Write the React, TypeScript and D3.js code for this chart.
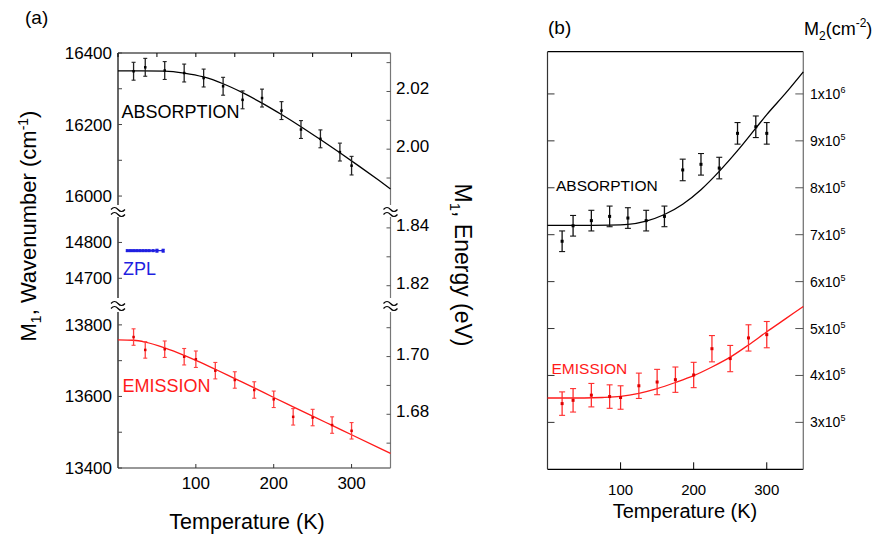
import React from "react";
import * as d3 from "d3";

// ---------- data (panel a: first moment) ----------
const absTempA = [20, 35, 60, 85, 110, 135, 160, 185, 210, 235, 260, 285, 300];
const absWaveA = [16349, 16360, 16351, 16344, 16330, 16307, 16269, 16274, 16239, 16186, 16160, 16123, 16085];
const absErrA = [25, 25, 25, 25, 25, 25, 25, 25, 25, 25, 25, 25, 26];
const absFitTempA = [0, 30, 60, 85, 110, 135, 160, 185, 210, 235, 260, 285, 310, 335, 350];
const absFitWaveA = [16350, 16350, 16349.5, 16344, 16333, 16314, 16289, 16260, 16228, 16194, 16158, 16121, 16083, 16044, 16020];

const emiTempA = [20, 35, 60, 85, 100, 125, 150, 175, 200, 225, 250, 275, 300];
const emiWaveA = [13766, 13730, 13732, 13711, 13704, 13672, 13646, 13618, 13592, 13543, 13541, 13520, 13504];
const emiErrA = [23, 23, 23, 23, 23, 23, 23, 23, 23, 23, 23, 23, 23];
const emiFitTempA = [0, 20, 35, 60, 85, 100, 125, 150, 175, 200, 225, 250, 275, 300, 350];
const emiFitWaveA = [13758, 13757, 13752, 13736, 13715, 13701, 13676, 13650, 13624, 13597, 13571, 13545, 13519, 13493, 13441];

const zplTemp = [12, 16, 20, 24, 28, 32, 36, 40, 45, 50, 58];
const zplWave = [14777, 14777, 14777, 14777, 14777, 14777, 14777, 14777, 14777, 14777, 14777];
const zplErr = [2, 2, 2, 2, 2, 2, 2, 2, 2, 4, 4];

// ---------- data (panel b: second moment) ----------
const absTempB = [20, 35, 60, 85, 110, 135, 160, 185, 210, 235, 260, 285, 300];
const absM2B = [6.86e5, 7.19e5, 7.3e5, 7.39e5, 7.355e5, 7.3e5, 7.39e5, 8.38e5, 8.5e5, 8.42e5, 9.16e5, 9.3e5, 9.16e5];
const absErrB = [2.2e4, 2.2e4, 2.2e4, 2.2e4, 2.2e4, 2.2e4, 2.2e4, 2.3e4, 2.3e4, 2.3e4, 2.3e4, 2.3e4, 2.3e4];
const absFitTempB = [0, 50, 85, 110, 135, 160, 185, 210, 235, 260, 285, 300, 325, 350];
const absFitM2B = [7.2e5, 7.2e5, 7.205e5, 7.22e5, 7.29e5, 7.43e5, 7.65e5, 7.96e5, 8.35e5, 8.79e5, 9.27e5, 9.56e5, 1.0e6, 1.047e6];

const emiTempB = [20, 35, 60, 85, 100, 125, 150, 175, 200, 225, 250, 275, 300];
const emiM2B = [3.4e5, 3.47e5, 3.58e5, 3.55e5, 3.53e5, 3.78e5, 3.86e5, 3.91e5, 4.01e5, 4.57e5, 4.36e5, 4.8e5, 4.87e5];
const emiErrB = [2.5e4, 2.5e4, 2.5e4, 2.5e4, 2.5e4, 2.7e4, 2.7e4, 2.7e4, 2.7e4, 2.8e4, 2.8e4, 2.8e4, 2.8e4];
const emiFitTempB = [0, 50, 75, 100, 125, 150, 175, 200, 225, 250, 275, 300, 325, 350];
const emiFitM2B = [3.52e5, 3.52e5, 3.53e5, 3.555e5, 3.62e5, 3.72e5, 3.85e5, 3.995e5, 4.18e5, 4.39e5, 4.65e5, 4.93e5, 5.2e5, 5.47e5];

// ---------- ticks ----------
const tempTicks = [100, 200, 300];
const tempTopTicksA = [0, 50, 100, 150, 200, 250, 300, 350];
const waveMajorTop = [16400, 16200, 16000];
const waveMinorTop = [16300, 16100];
const waveMajorMid = [14800, 14700];
const waveMajorBot = [13800, 13600, 13400];
const waveMinorBot = [13700, 13500];
const evMajorTop = [2.02, 2.0];
const evMinorTop = [2.03, 2.01, 1.99];
const evMajorMid = [1.84, 1.82];
const evMinorMid = [1.83];
const evMajorBot = [1.7, 1.68];
const evMinorBot = [1.71, 1.69, 1.67];
const m2Ticks = [3e5, 4e5, 5e5, 6e5, 7e5, 8e5, 9e5, 1e6];

const CM_PER_EV = 8065.54;
const FONT = "'Liberation Sans', Arial, Helvetica, sans-serif";
const RED = "#ff1a1a";
const BLUE = "#1f1fe0";

export default function App() {
  // panel a scales
  const xA = d3.scaleLinear().domain([0, 350]).range([118, 390.5]);
  const yTop = d3.scaleLinear().domain([15975, 16400]).range([205, 53]);
  const yMid = d3.scaleLinear().domain([14645, 14871]).range([298, 217]);
  const yBot = d3.scaleLinear().domain([13400, 13836]).range([468, 312]);
  // panel b scales
  const xB = d3.scaleLinear().domain([0, 350]).range([547.5, 803.3]);
  const yB = d3.scaleLinear().domain([2e5, 1.09e6]).range([469.3, 51.7]);

  const lineGen = (xs: any, ys: any, tArr: number[], vArr: number[]) =>
    d3
      .line<number>()
      .x((_, i) => xs(tArr[i]))
      .y((v) => ys(v))
      .curve(d3.curveMonotoneX)(vArr) || "";

  const errorBars = (
    key: string,
    xs: any,
    ys: any,
    tArr: number[],
    vArr: number[],
    eArr: number[],
    color: string,
    barColor: string,
    cap: number,
    dot: number
  ) =>
    tArr.map((t, i) => {
      const x = xs(t);
      const y0 = ys(vArr[i] - eArr[i]);
      const y1 = ys(vArr[i] + eArr[i]);
      return (
        <g key={key + i}>
          <line x1={x} x2={x} y1={y0} y2={y1} stroke={barColor} strokeWidth={1.3} />
          <line x1={x - cap} x2={x + cap} y1={y0} y2={y0} stroke={barColor} strokeWidth={1.1} />
          <line x1={x - cap} x2={x + cap} y1={y1} y2={y1} stroke={barColor} strokeWidth={1.1} />
          <rect x={x - dot / 2} y={ys(vArr[i]) - dot / 2} width={dot} height={dot} fill={color} />
        </g>
      );
    });

  const breakMark = (x: number, y: number, key: string) => (
    <g key={key} fill="none" stroke="#000" strokeWidth={1.2}>
      <path d={`M${x - 7},${y - 1.5} q3.5,-4 7,0 t7,0`} />
      <path d={`M${x - 7},${y + 3.5} q3.5,-4 7,0 t7,0`} />
    </g>
  );

  const leftX = xA.range()[0];
  const rightX = xA.range()[1];
  const sections = [
    { s: yTop, major: waveMajorTop, minor: waveMinorTop, evMajor: evMajorTop, evMinor: evMinorTop },
    { s: yMid, major: waveMajorMid, minor: [] as number[], evMajor: evMajorMid, evMinor: evMinorMid },
    { s: yBot, major: waveMajorBot, minor: waveMinorBot, evMajor: evMajorBot, evMinor: evMinorBot },
  ];

  const bLeft = xB.range()[0];
  const bRight = xB.range()[1];
  const bTop = yB.range()[1];
  const bBottom = yB.range()[0];

  return (
    <svg
      width={880}
      height={536}
      style={{ position: "absolute", left: 0, top: 0, background: "#fff" }}
      fontFamily={FONT}
    >
      <rect x={0} y={0} width={880} height={536} fill="#fff" />

      {/* ================= panel (a) ================= */}
      <text x={25} y={24} fontSize={19}>(a)</text>

      {/* top border with ticks */}
      <line x1={leftX} x2={rightX} y1={yTop.range()[1]} y2={yTop.range()[1]} stroke="#000" strokeWidth={1.2} />
      {tempTopTicksA.map((t) => (
        <line key={"tt" + t} x1={xA(t)} x2={xA(t)} y1={yTop.range()[1]} y2={yTop.range()[1] + 4} stroke="#000" />
      ))}
      {/* bottom axis */}
      <line x1={leftX} x2={rightX} y1={yBot.range()[0]} y2={yBot.range()[0]} stroke="#333" strokeWidth={1.2} />
      {tempTicks.map((t) => (
        <g key={"bt" + t}>
          <line x1={xA(t)} x2={xA(t)} y1={yBot.range()[0]} y2={yBot.range()[0] - 4} stroke="#333" />
          <text x={xA(t)} y={489} fontSize={17} textAnchor="middle">{t}</text>
        </g>
      ))}
      <text x={247} y={529} fontSize={21.5} textAnchor="middle">Temperature (K)</text>

      {/* left & right axis sections */}
      {sections.map((sec, k) => {
        const [y1, y0] = sec.s.range();
        return (
          <g key={"sec" + k}>
            <line x1={leftX} x2={leftX} y1={y0} y2={y1} stroke="#000" strokeWidth={1.2} />
            <line x1={rightX} x2={rightX} y1={y0} y2={y1} stroke="#777" strokeWidth={1.2} />
            {sec.major.map((v) => (
              <g key={"wm" + v}>
                <line x1={leftX} x2={leftX + 4} y1={sec.s(v)} y2={sec.s(v)} stroke="#444" />
                <text x={112} y={sec.s(v) + 6} fontSize={17} textAnchor="end">{v}</text>
              </g>
            ))}
            {sec.minor.map((v) => (
              <line key={"wn" + v} x1={leftX} x2={leftX + 4} y1={sec.s(v)} y2={sec.s(v)} stroke="#444" />
            ))}
            {sec.evMajor.map((e) => (
              <g key={"em" + e}>
                <line x1={rightX - 4} x2={rightX} y1={sec.s(e * CM_PER_EV)} y2={sec.s(e * CM_PER_EV)} stroke="#555" />
                <text x={396} y={sec.s(e * CM_PER_EV) + 3} fontSize={17}>{e.toFixed(2)}</text>
              </g>
            ))}
            {sec.evMinor.map((e) => (
              <line key={"en" + e} x1={rightX - 4} x2={rightX} y1={sec.s(e * CM_PER_EV)} y2={sec.s(e * CM_PER_EV)} stroke="#555" />
            ))}
          </g>
        );
      })}
      {breakMark(leftX, (yTop.range()[0] + yMid.range()[1]) / 2, "bl1")}
      {breakMark(leftX, (yMid.range()[0] + yBot.range()[1]) / 2, "bl2")}
      {breakMark(rightX, (yTop.range()[0] + yMid.range()[1]) / 2, "br1")}
      {breakMark(rightX, (yMid.range()[0] + yBot.range()[1]) / 2, "br2")}

      <text transform="translate(36,226) rotate(-90)" fontSize={22} textAnchor="middle">
        M<tspan fontSize={14} dy={5}>1</tspan>
        <tspan dy={-5}>, Wavenumber (cm</tspan>
        <tspan fontSize={14} dy={-8}>-1</tspan>
        <tspan dy={8}>)</tspan>
      </text>
      <text transform="translate(455,265) rotate(90)" fontSize={23} textAnchor="middle">
        M<tspan fontSize={15} dy={5}>1</tspan>
        <tspan dy={-5}>, Energy (eV)</tspan>
      </text>

      {/* fit curves */}
      <path d={lineGen(xA, yTop, absFitTempA, absFitWaveA)} fill="none" stroke="#000" strokeWidth={1.3} />
      <path d={lineGen(xA, yBot, emiFitTempA, emiFitWaveA)} fill="none" stroke={RED} strokeWidth={1.3} />
      {errorBars("aa", xA, yTop, absTempA, absWaveA, absErrA, "#000", "#222", 2, 2.5)}
      {errorBars("ea", xA, yBot, emiTempA, emiWaveA, emiErrA, "#e00000", "#ff4040", 2, 2.5)}
      {errorBars("zp", xA, yMid, zplTemp, zplWave, zplErr, BLUE, BLUE, 1.5, 3)}
      <line x1={xA(zplTemp[0])} x2={xA(zplTemp[zplTemp.length - 1])} y1={yMid(zplWave[0])} y2={yMid(zplWave[0])} stroke={BLUE} strokeWidth={1.2} />

      <text x={121.5} y={118} fontSize={18}>ABSORPTION</text>
      <text x={122.5} y={392} fontSize={18} fill={RED}>EMISSION</text>
      <text x={123} y={274.5} fontSize={18} fill={BLUE}>ZPL</text>

      {/* ================= panel (b) ================= */}
      <text x={548} y={34} fontSize={19}>(b)</text>
      <text x={804} y={35} fontSize={18}>
        M<tspan fontSize={12} dy={5}>2</tspan>
        <tspan dy={-5}>(cm</tspan>
        <tspan fontSize={12} dy={-8}>-2</tspan>
        <tspan dy={8}>)</tspan>
      </text>

      <line x1={bLeft} x2={bRight} y1={bTop} y2={bTop} stroke="#000" strokeWidth={1.2} />
      <line x1={bLeft} x2={bRight} y1={bBottom} y2={bBottom} stroke="#000" strokeWidth={1.2} />
      <line x1={bLeft} x2={bLeft} y1={bTop} y2={bBottom} stroke="#333" strokeWidth={1.2} />
      <line x1={bRight} x2={bRight} y1={bTop} y2={bBottom} stroke="#777" strokeWidth={1.3} />
      {m2Ticks.map((v) => {
        const exp = Math.floor(Math.log10(v) + 1e-9);
        const mant = Math.round(v / Math.pow(10, exp));
        return (
          <g key={"m2" + v}>
            <line x1={bLeft} x2={bLeft + 7} y1={yB(v)} y2={yB(v)} stroke="#333" />
            <line x1={bRight - 8} x2={bRight} y1={yB(v)} y2={yB(v)} stroke="#555" />
            <text x={810} y={yB(v) + 5} fontSize={14}>
              {mant}x10<tspan fontSize={9} dy={-6}>{exp}</tspan>
            </text>
          </g>
        );
      })}
      {tempTicks.map((t) => (
        <g key={"bbt" + t}>
          <line x1={xB(t)} x2={xB(t)} y1={bBottom} y2={bBottom - 7} stroke="#000" />
          <text x={xB(t)} y={494.5} fontSize={15} textAnchor="middle">{t}</text>
        </g>
      ))}
      <text x={685} y={518} fontSize={20} textAnchor="middle">Temperature (K)</text>

      <path d={lineGen(xB, yB, absFitTempB, absFitM2B)} fill="none" stroke="#000" strokeWidth={1.3} />
      <path d={lineGen(xB, yB, emiFitTempB, emiFitM2B)} fill="none" stroke={RED} strokeWidth={1.3} />
      {errorBars("ab", xB, yB, absTempB, absM2B, absErrB, "#000", "#111", 3, 3)}
      {errorBars("eb", xB, yB, emiTempB, emiM2B, emiErrB, "#e00000", "#ff3030", 3, 3)}

      <text x={556} y={190.5} fontSize={15.5}>ABSORPTION</text>
      <text x={551.5} y={374} fontSize={15.5} fill={RED}>EMISSION</text>
    </svg>
  );
}
